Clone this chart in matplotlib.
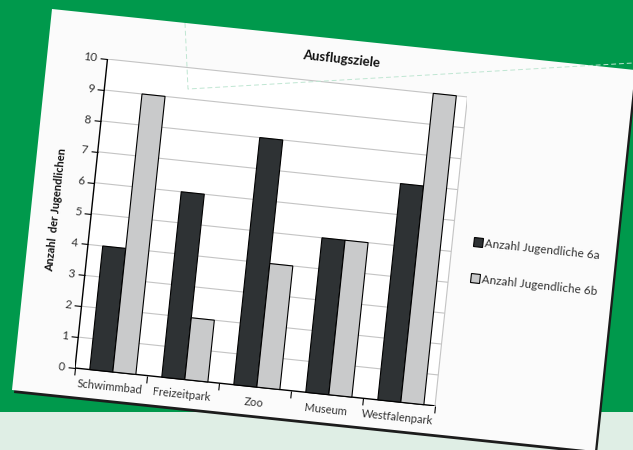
import matplotlib
matplotlib.use("Agg")
import matplotlib.pyplot as plt
import numpy as np
from matplotlib.transforms import Affine2D
from matplotlib.patches import Polygon, Rectangle
from matplotlib.lines import Line2D
from matplotlib.markers import MarkerStyle
import mpl_toolkits.axisartist.floating_axes as floating_axes
from mpl_toolkits.axisartist.grid_finder import FixedLocator

# ---------------- data ----------------
categories = ["Schwimmbad", "Freizeitpark", "Zoo", "Museum", "Westfalenpark"]
jugendliche_6a = [4, 6, 8, 5, 7]
jugendliche_6b = [9, 2, 4, 5, 10]
y_ticks = list(range(0, 11))
series_labels = ["Anzahl Jugendliche 6a", "Anzahl Jugendliche 6b"]
title_text = "Ausflugsziele"
y_label = "Anzahl  der Jugendlichen"

plt.rcParams["font.family"] = ["Lato", "DejaVu Sans"]

# ---------------- layout (pixels) ----------------
FW, FH = 633, 450
ANG = -6.0                 # photo rotation
PW, PH = 362.0, 310.6      # plot area size in px
ORIGIN = (75.0, 368.0)     # screen px of data origin

C_DARK = "#2e3234"
C_LIGHT = "#c9cacb"
C_GREEN = "#00994c"

fig = plt.figure(figsize=(FW / 100, FH / 100), dpi=100)
fig.patch.set_facecolor(C_GREEN)


def fpt(x, y):
    return (x / FW, 1 - y / FH)


# light band at bottom
fig.add_artist(Rectangle((0, 0), 1, (FH - 412) / FH, transform=fig.transFigure,
                         facecolor="#dfeee5", edgecolor="none", zorder=-3))
# paper with shadow
paper = [(52, 9), (635, 70), (595, 451), (12, 390)]
shadow = [(x + 2, y + 3) for x, y in paper]
fig.add_artist(Polygon([fpt(*p) for p in shadow], closed=True, transform=fig.transFigure,
                       facecolor="#1c1c1c", edgecolor="none", zorder=-2))
fig.add_artist(Polygon([fpt(*p) for p in paper], closed=True, transform=fig.transFigure,
                       facecolor="#fbfbfb", edgecolor="none", zorder=-1))
# faint dashed selection artefact
dash = [(185, 23), (188, 89), (633, 63)]
fig.add_artist(Line2D([fpt(*p)[0] for p in dash], [fpt(*p)[1] for p in dash],
                      transform=fig.transFigure, color="#bfe6d2", lw=0.7,
                      linestyle=(0, (5, 3)), zorder=5))

# ---------------- rotated chart axes ----------------
n = len(categories)
ymax = y_ticks[-1]
tr = Affine2D().scale(PW / n, PH / ymax).rotate_deg(ANG)
gh = floating_axes.GridHelperCurveLinear(
    tr, extremes=(0, n, 0, ymax),
    grid_locator1=FixedLocator(list(range(n + 1))),
    grid_locator2=FixedLocator(y_ticks))

corners = tr.transform(np.array([[0, 0], [n, 0], [0, ymax], [n, ymax]], float))
xmin, ymin = corners.min(axis=0)
xmax, ymx = corners.max(axis=0)
left_px = ORIGIN[0] + xmin
bottom_px = (FH - ORIGIN[1]) + ymin
rect = [left_px / FW, bottom_px / FH, (xmax - xmin) / FW, (ymx - ymin) / FH]
ax = fig.add_axes(rect, axes_class=floating_axes.FloatingAxes, grid_helper=gh)
ax.set_xlim(xmin, xmax)
ax.set_ylim(ymin, ymx)
ax.patch.set_facecolor("white")

for name in ["left", "bottom", "right", "top"]:
    a = ax.axis[name]
    a.major_ticklabels.set_visible(False)
    a.label.set_visible(False)

ax.axis["left"].line.set_color("black")
ax.axis["left"].line.set_linewidth(1.0)
ax.axis["left"].major_ticks.set_ticksize(5)
ax.axis["left"].major_ticks.set_tick_out(True)
ax.axis["bottom"].line.set_color("black")
ax.axis["bottom"].line.set_linewidth(1.0)
ax.axis["bottom"].major_ticks.set_ticksize(5)
ax.axis["bottom"].major_ticks.set_tick_out(True)
for name in ["right", "top"]:
    ax.axis[name].line.set_color("#c4c4c4")
    ax.axis[name].line.set_linewidth(0.8)
    ax.axis[name].major_ticks.set_visible(False)

ax.grid(True, axis="y", color="#c4c4c4", linewidth=0.8)

aux = ax.get_aux_axes(tr)

x = np.arange(n) + 0.525
w = 0.32
aux.bar(x - w / 2, jugendliche_6a, width=w, color=C_DARK, edgecolor="black",
        linewidth=0.8, zorder=3)
aux.bar(x + w / 2, jugendliche_6b, width=w, color=C_LIGHT, edgecolor="black",
        linewidth=0.8, zorder=3)

txt_kw = dict(rotation=ANG, rotation_mode="anchor", color="#333333")
for t in y_ticks:
    aux.text(-0.14, t, str(t), ha="right", va="center", fontsize=8.5, **txt_kw)
for i, c in enumerate(categories):
    aux.text(i + 0.5, -0.5, c, ha="center", va="center", fontsize=8, **txt_kw)

aux.text(3.21, 10.79, title_text, ha="center", va="center", fontsize=9.5,
         fontweight="bold", rotation=ANG, rotation_mode="anchor", color="#111111")
aux.text(-0.49, 5.0, y_label, ha="center", va="center", fontsize=8,
         fontweight="bold", rotation=90 + ANG, rotation_mode="anchor", color="#111111")

# legend (rotated along with the chart)
leg_v = [5.40, 4.24]
leg_colors = [C_DARK, C_LIGHT]
msq = MarkerStyle("s", transform=Affine2D().rotate_deg(ANG))
for v, col, lab in zip(leg_v, leg_colors, series_labels):
    aux.plot([5.36], [v], linestyle="none", marker=msq, markersize=6,
             markerfacecolor=col, markeredgecolor="black", markeredgewidth=0.8,
             clip_on=False)
    aux.text(5.45, v - 0.03, lab, ha="left", va="center", fontsize=8.5, **txt_kw)

fig.savefig("out.png", dpi=100, facecolor=fig.get_facecolor())
